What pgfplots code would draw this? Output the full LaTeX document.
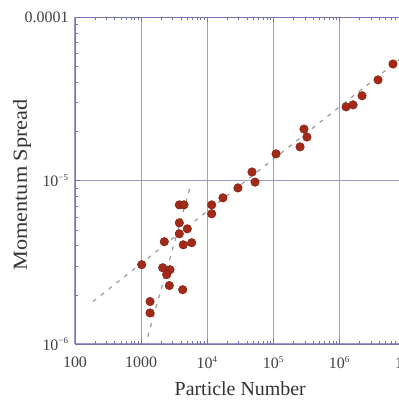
\documentclass[border=0pt]{standalone}
\usepackage{fontspec}
\setmainfont{Liberation Serif}
\usepackage{graphicx}
\usepackage{pgfplots}
\pgfplotsset{compat=1.18}
\definecolor{axblue}{HTML}{7474B4}
\definecolor{gridblue}{HTML}{9C9CD0}
\definecolor{dotred}{HTML}{A32A18}
\definecolor{dotedge}{HTML}{7A1A0E}
\definecolor{dashgray}{HTML}{9A9A9A}
\newcommand{\sups}[1]{\textsuperscript{\fontsize{9}{9}\selectfont #1}}
\begin{document}
\begin{tikzpicture}
\begin{axis}[
  at={(0,0)}, anchor=south west,
  scale only axis,
  width=330.5bp, height=326.7bp,
  xmode=log, ymode=log,
  xmin=100, xmax=1e7, ymin=1e-6, ymax=1e-4,
  axis line style={axblue, line width=0.8pt},
  tick style={axblue, line width=0.6pt},
  major tick length=5bp, minor tick length=3bp,
  grid=major,
  major grid style={gridblue, line width=1.1pt},
  xtick={100,1000,1e4,1e5,1e6,1e7},
  xticklabels={100,1000,10\sups{4},10\sups{5},10\sups{6},10\sups{7}},
  ytick={1e-6,1e-5,1e-4},
  yticklabels={10\sups{−6},10\sups{−5},0.0001},
  tick label style={font=\fontsize{16}{18}\selectfont, text=black!75},
  xticklabel style={yshift=-9bp},
  yticklabel style={xshift=-3bp},
  xlabel={Particle Number},
  ylabel={\scalebox{1.12}[1]{Momentum Spread}},
  label style={font=\fontsize{20}{24}\selectfont, text=black!80},
  xlabel style={at={(axis description cs:0.5,-0.136)}, anchor=center},
  ylabel style={at={(axis description cs:-0.160,0.487)}, anchor=center},
]
\addplot[dashgray, dashed, line width=1.2pt, dash pattern=on 4pt off 6pt] coordinates {(187,1.82e-6) (1e7,5.9e-5)};
\addplot[dashgray, dashed, line width=1.2pt, dash pattern=on 4pt off 6pt] coordinates {(1259,1.11e-6) (5495,9.04e-6)};
\addplot[only marks, mark=*, mark size=4.3pt, mark options={fill=dotred, draw=dotedge, line width=0.4pt}] coordinates {
(6.47e6,5.18e-5) (3.84e6,4.14e-5) (2.20e6,3.31e-5) (1.61e6,2.91e-5) (1.26e6,2.83e-5)
(2.91e5,2.07e-5) (3.23e5,1.85e-5) (2.54e5,1.61e-5) (1.10e5,1.46e-5)
(4.76e4,1.13e-5) (5.29e4,9.8e-6) (2.92e4,9.03e-6) (1.73e4,7.85e-6)
(1.17e4,7.11e-6) (1.17e4,6.27e-6)
(3785,7.11e-6) (4460,7.11e-6) (3785,5.52e-6) (5000,5.07e-6) (3785,4.73e-6)
(2244,4.23e-6) (4345,4.05e-6) (5820,4.17e-6)
(1021,3.06e-6) (2122,2.93e-6) (2737,2.85e-6) (2438,2.66e-6) (2673,2.28e-6) (4256,2.15e-6)
(1365,1.82e-6) (1365,1.55e-6)
};
\end{axis}
\pgfresetboundingbox
\useasboundingbox (-75bp,-56bp) rectangle (324bp,344bp);
\end{tikzpicture}
\end{document}
